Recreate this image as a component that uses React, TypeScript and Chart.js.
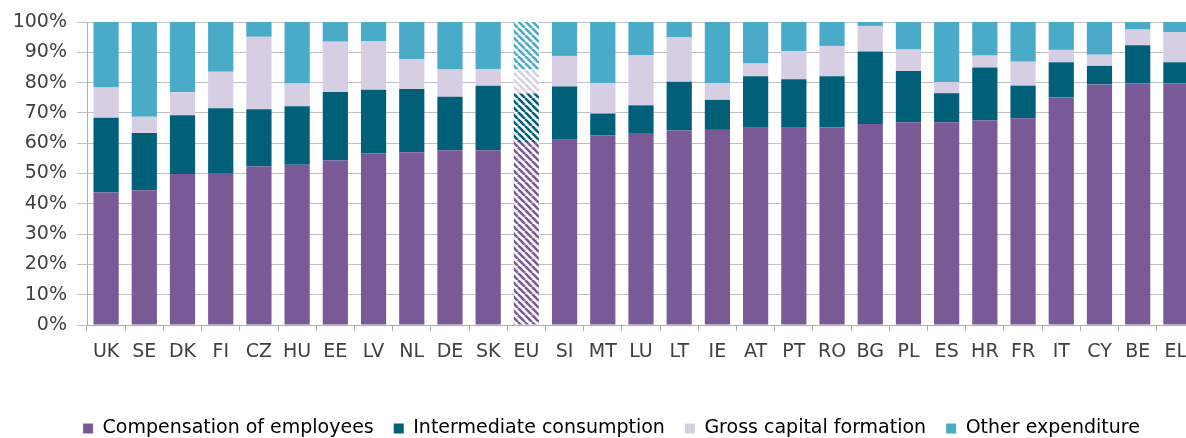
import React, { useEffect, useRef } from "react";
import { Chart, registerables } from "chart.js";

Chart.register(...registerables);

const categories = ["UK", "SE", "DK", "FI", "CZ", "HU", "EE", "LV", "NL", "DE", "SK", "EU", "SI", "MT", "LU", "LT", "IE", "AT", "PT", "RO", "BG", "PL", "ES", "HR", "FR", "IT", "CY", "BE", "EL"];

const compensation = [43.7, 44.5, 49.8, 50.2, 52.3, 52.9, 54.3, 56.7, 57.0, 57.7, 57.7, 60.4, 61.1, 62.5, 63.1, 64.2, 64.4, 65.1, 65.1, 65.3, 66.3, 66.9, 66.9, 67.5, 68.2, 75.1, 79.4, 79.7, 79.7];
const intermediate = [24.7, 18.9, 19.4, 21.3, 18.9, 19.3, 22.6, 20.9, 20.9, 17.6, 21.3, 16.0, 17.6, 7.3, 9.4, 16.1, 9.9, 17.0, 16.0, 16.8, 24.0, 16.9, 9.6, 17.5, 10.8, 11.6, 6.1, 12.6, 7.0];
const grossCapital = [10.0, 5.3, 7.6, 12.1, 23.9, 7.5, 16.6, 16.0, 9.8, 9.0, 5.5, 8.0, 10.1, 10.0, 16.5, 14.6, 5.5, 4.2, 9.3, 10.0, 8.4, 7.1, 3.7, 3.9, 7.9, 4.1, 3.7, 5.2, 10.0];
const otherExpenditure = [21.6, 31.3, 23.2, 16.4, 4.9, 20.3, 6.5, 6.4, 12.3, 15.7, 15.5, 15.6, 11.2, 20.2, 11.0, 5.1, 20.2, 13.7, 9.6, 7.9, 1.3, 9.1, 19.8, 11.1, 13.1, 9.2, 10.8, 2.5, 3.3];

const seriesLabels = ["Compensation of employees", "Intermediate consumption", "Gross capital formation", "Other expenditure"];
const seriesColors = ["#7a5a96", "#00607a", "#d6cee3", "#4aabc8"];
const yTicks = [0, 10, 20, 30, 40, 50, 60, 70, 80, 90, 100];

const hatchCategory = "EU";

function makeHatch(color: string): CanvasPattern | string {
  const s = 7;
  const c = document.createElement("canvas");
  c.width = s;
  c.height = s;
  const ctx = c.getContext("2d");
  if (!ctx) return color;
  ctx.fillStyle = "#ffffff";
  ctx.fillRect(0, 0, s, s);
  ctx.strokeStyle = color;
  ctx.lineWidth = 2.6;
  for (const o of [-s, 0, s]) {
    ctx.beginPath();
    ctx.moveTo(o, 0);
    ctx.lineTo(o + s, s);
    ctx.stroke();
  }
  const p = ctx.createPattern(c, "repeat");
  return p || color;
}

const legendShift = {
  id: "legendShift",
  afterLayout(chart: any) {
    const lg = chart.legend;
    if (lg) {
      lg.left += 14;
      lg.right += 14;
    }
  },
};

export default function App() {
  const ref = useRef<HTMLCanvasElement | null>(null);

  useEffect(() => {
    if (!ref.current) return;
    const dataSets = [compensation, intermediate, grossCapital, otherExpenditure];
    const fontFamily = "'DejaVu Sans', Verdana, sans-serif";
    const chart = new Chart(ref.current, {
      type: "bar",
      plugins: [legendShift],
      data: {
        labels: categories,
        datasets: dataSets.map((d, i) => {
          const hatch = makeHatch(seriesColors[i]);
          return {
            label: seriesLabels[i],
            data: d,
            backgroundColor: categories.map((c) => (c === hatchCategory ? hatch : seriesColors[i])),
            borderWidth: 0,
            categoryPercentage: 1,
            barPercentage: 0.66,
          };
        }),
      },
      options: {
        animation: false,
        responsive: false,
        devicePixelRatio: 1,
        layout: { padding: { left: 0, right: 5, top: 22, bottom: 0 } },
        plugins: {
          tooltip: { enabled: false },
          legend: {
            position: "bottom",
            labels: {
              boxWidth: 10,
              boxHeight: 10,
              padding: 20,
              color: "#404040",
              font: { family: fontFamily, size: 19 },
              generateLabels: (ch: any) =>
                ch.data.datasets.map((ds: any, i: number) => ({
                  text: ds.label,
                  fillStyle: seriesColors[i],
                  strokeStyle: seriesColors[i],
                  lineWidth: 0,
                  datasetIndex: i,
                  hidden: false,
                })),
            },
          },
        },
        scales: {
          x: {
            stacked: true,
            grid: { display: true, drawOnChartArea: false, drawTicks: true, tickLength: 6, color: "#b0b0b0" },
            border: { color: "#b0b0b0" },
            ticks: { color: "#404040", font: { family: fontFamily, size: 19 }, padding: 10, maxRotation: 0, autoSkip: false },
            afterFit: (s: any) => {
              s.height = 74;
            },
          },
          y: {
            stacked: true,
            min: 0,
            max: 100,
            afterBuildTicks: (s: any) => {
              s.ticks = yTicks.map((v) => ({ value: v }));
            },
            grid: { color: "#c0c0c0", tickLength: 10, lineWidth: 1 },
            border: { color: "#b0b0b0" },
            ticks: {
              color: "#404040",
              font: { family: fontFamily, size: 19 },
              padding: 10,
              callback: (v: any) => v + "%",
            },
            afterFit: (s: any) => {
              s.width = 87;
            },
          },
        },
      },
    });
    return () => chart.destroy();
  }, []);

  return (
    <div style={{ position: "fixed", left: 0, top: 0, width: 1186, height: 438, overflow: "hidden", background: "#fff" }}>
      <canvas ref={ref} width={1200} height={448} style={{ width: 1200, height: 448, display: "block" }} />
    </div>
  );
}
